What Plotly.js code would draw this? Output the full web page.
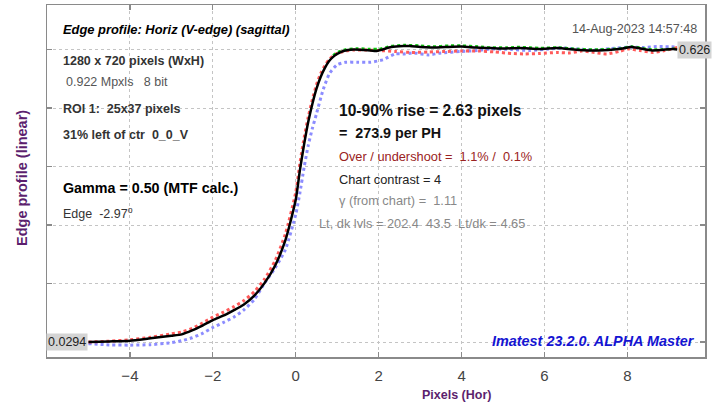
<!DOCTYPE html>
<html>
<head>
<meta charset="utf-8">
<script src="https://cdn.plot.ly/plotly-3.0.1.min.js"></script>
<style>html,body{margin:0;padding:0;background:#fff;}#chart{width:716px;height:404px;}</style>
</head>
<body>
<div id="chart"></div>
<script>
// ---- data ----
const blackX = [-5.0,-4.5,-4.0,-3.5,-3.0,-2.75,-2.5,-2.25,-2.0,-1.75,-1.5,-1.25,-1.0,-0.75,-0.5,-0.25,0.0,0.1,0.2,0.3,0.4,0.5,0.6,0.7,0.8,0.9,1.0,1.15,1.4,1.65,1.95,2.3,2.6,2.75,3.0,3.25,3.6,4.0,4.35,4.7,5.0,5.4,5.9,6.3,6.85,7.3,7.8,8.1,8.6,9.1,9.2];
const blackY = [0.0294,0.0305,0.032,0.037,0.042,0.045,0.053,0.063,0.074,0.083,0.094,0.106,0.124,0.150,0.185,0.237,0.320,0.380,0.432,0.478,0.515,0.546,0.570,0.588,0.602,0.611,0.617,0.623,0.626,0.625,0.623,0.631,0.633,0.633,0.631,0.630,0.631,0.632,0.630,0.629,0.628,0.629,0.627,0.629,0.625,0.624,0.627,0.631,0.624,0.627,0.626];

const redX = [-5.0,-4.5,-4.0,-3.5,-3.0,-2.75,-2.5,-2.25,-2.0,-1.75,-1.5,-1.25,-1.0,-0.75,-0.5,-0.25,0.0,0.1,0.2,0.3,0.4,0.5,0.6,0.7,0.8,0.9,1.0,1.2,1.4,1.7,2.0,2.4,2.8,3.2,3.6,4.0,4.4,4.8,5.2,5.5,5.9,6.3,6.6,6.9,7.2,7.5,7.8,8.0,8.3,8.6,8.9,9.2];
const redY = [0.0294,0.031,0.034,0.039,0.046,0.050,0.057,0.068,0.080,0.090,0.101,0.114,0.132,0.158,0.195,0.250,0.335,0.394,0.445,0.488,0.524,0.554,0.577,0.593,0.605,0.613,0.618,0.623,0.625,0.625,0.624,0.622,0.620,0.621,0.622,0.623,0.623,0.621,0.618,0.617,0.618,0.620,0.619,0.623,0.620,0.617,0.622,0.627,0.624,0.620,0.624,0.630];

const greenX = [0.9,1.0,1.2,1.5,1.8,2.0,2.3,2.6,3.0,3.3,3.7,4.0,4.4,4.7,5.1,5.4,5.9,6.3,6.8,7.3,7.8,8.1,8.6,9.2];
const greenY = [0.614,0.620,0.626,0.628,0.627,0.627,0.633,0.635,0.634,0.632,0.634,0.634,0.632,0.630,0.630,0.631,0.629,0.630,0.627,0.626,0.628,0.632,0.626,0.628];

const blueX = [-5.0,-4.5,-4.0,-3.5,-3.0,-2.75,-2.5,-2.25,-2.0,-1.75,-1.5,-1.25,-1.0,-0.75,-0.5,-0.25,0.0,0.1,0.2,0.3,0.4,0.5,0.66,0.82,1.0,1.2,1.5,1.8,2.1,2.4,2.6,2.85,3.2,3.5,4.0,4.4,4.7,5.2,5.65,6.1,6.45,6.8,7.2,7.6,8.05,8.4,8.7,9.2];
const blueY = [0.026,0.0235,0.023,0.024,0.028,0.032,0.038,0.047,0.059,0.069,0.080,0.095,0.116,0.150,0.180,0.218,0.290,0.334,0.385,0.430,0.465,0.495,0.544,0.578,0.595,0.600,0.600,0.600,0.605,0.617,0.617,0.619,0.615,0.619,0.622,0.624,0.627,0.626,0.624,0.627,0.629,0.627,0.625,0.628,0.631,0.630,0.632,0.631];

const xTickVals = [-4,-2,0,2,4,6,8];
const yTickVals = [0.0294,0.1487,0.2680,0.3874,0.5067,0.626];
const minLabel = "0.0294";
const maxLabel = "0.626";

// ---- layout geometry ----
const W = 716, H = 404;
const M = {l:47, r:11, t:5, b:47};
const PW = W - M.l - M.r, PH = H - M.t - M.b;
const FONT = "Arial, 'Liberation Sans', sans-serif";

function P(px){ return (px - M.l)/PW; }
function Q(py){ return (H - M.b - py)/PH; }
function txt(text, px, py, size, color, opts){
  opts = opts || {};
  let t = text;
  if (opts.b) t = '<b>' + t + '</b>';
  if (opts.i) t = '<i>' + t + '</i>';
  return {
    text: t, xref:'paper', yref:'paper', x:P(px), y:Q(py),
    xanchor: opts.xa || 'left', yanchor:'middle', showarrow:false,
    textangle: opts.angle || 0,
    font:{family:FONT, size:size, color:color}
  };
}

const traces = [
  {x:blueX, y:blueY, mode:'lines', line:{color:'#8c8cff', width:3, dash:'dot', shape:'spline', smoothing:0.6}, hoverinfo:'skip'},
  {x:redX, y:redY, mode:'lines', line:{color:'#ff5a5a', width:3, dash:'dot', shape:'spline', smoothing:0.6}, hoverinfo:'skip'},
  {x:greenX, y:greenY, mode:'lines', line:{color:'#10c810', width:2.5, dash:'dot', shape:'spline', smoothing:0.6}, hoverinfo:'skip'},
  {x:blackX, y:blackY, mode:'lines', line:{color:'#000000', width:2.5, shape:'spline', smoothing:0.6}, hoverinfo:'skip'}
];

const axisCommon = {
  showline:true, linecolor:'#8a8a8a', linewidth:1.5, mirror:'ticks',
  ticks:'inside', ticklen:5, tickwidth:1.2, tickcolor:'#8a8a8a',
  showgrid:true, gridcolor:'#c4c4c4', griddash:'dot', gridwidth:1,
  zeroline:false, fixedrange:true
};

const layout = {
  width:W, height:H, margin:M,
  paper_bgcolor:'#ffffff', plot_bgcolor:'#ffffff',
  showlegend:false,
  font:{family:FONT},
  xaxis: Object.assign({}, axisCommon, {
    range:[-6, 9.87], tickmode:'array', tickvals:xTickVals,
    ticklabelstandoff:4,
    tickfont:{family:FONT, size:15, color:'#444'}
  }),
  yaxis: Object.assign({}, axisCommon, {
    range:[-0.0012, 0.7168], tickmode:'array', tickvals:yTickVals,
    showticklabels:false
  }),
  annotations: [
    txt('Edge profile: Horiz (V-edge) (sagittal)', 61, 29.5, 12.9, '#000', {b:1, i:1}),
    txt('1280 x 720 pixels (WxH)', 61, 61, 12.5, '#333', {b:1}),
    txt('0.922 Mpxls   8 bit', 64, 82, 12.5, '#555'),
    txt('ROI 1:  25x37 pixels', 61, 109, 12.5, '#333', {b:1}),
    txt('31% left of ctr  0_0_V', 61, 135, 12.5, '#333', {b:1}),
    txt('Gamma = 0.50 (MTF calc.)', 61, 188, 14.3, '#000', {b:1}),
    txt('Edge  -2.97<sup>o</sup>', 61, 213, 12.5, '#333'),
    txt('14-Aug-2023 14:57:48', 570, 28.5, 12.6, '#555'),
    txt('10-90% rise = 2.63 pixels', 337, 110, 15.6, '#111', {b:1}),
    txt('=  273.9 per PH', 337, 133, 14.3, '#111', {b:1}),
    txt('Over / undershoot =  1.1% /  0.1%', 337, 156, 12.8, '#9a2222'),
    txt('Chart contrast = 4', 337, 179.5, 12.8, '#222'),
    txt('\u03b3 (from chart) =  1.11', 337, 200.5, 12.8, '#888'),
    txt('Lt, dk lvls = 202.4  43.5  Lt/dk = 4.65', 317, 223.5, 12.8, '#888'),
    txt('Imatest 23.2.0. ALPHA Master', 490, 341, 14.4, '#1414d2', {b:1, i:1}),
    txt('Pixels (Hor)', 457, 395, 12.5, '#5c1f6e', {b:1, xa:'center'}),
    txt('Edge profile (linear)', 22, 178, 14.5, '#5c1f6e', {b:1, xa:'center', angle:-90}),
    {text:minLabel, xref:'x', yref:'y', x:blackX[0], y:blackY[0], xanchor:'right', yanchor:'middle',
     showarrow:false, bgcolor:'#d4d4d4', borderpad:1, font:{family:FONT, size:12.5, color:'#222'}},
    {text:maxLabel, xref:'x', yref:'y', x:blackX[blackX.length-1], y:blackY[blackY.length-1], xanchor:'left', yanchor:'middle',
     showarrow:false, bgcolor:'#d4d4d4', borderpad:1, font:{family:FONT, size:12.5, color:'#222'}}
  ]
};

Plotly.newPlot('chart', traces, layout, {staticPlot:true, displayModeBar:false});
</script>
</body>
</html>
